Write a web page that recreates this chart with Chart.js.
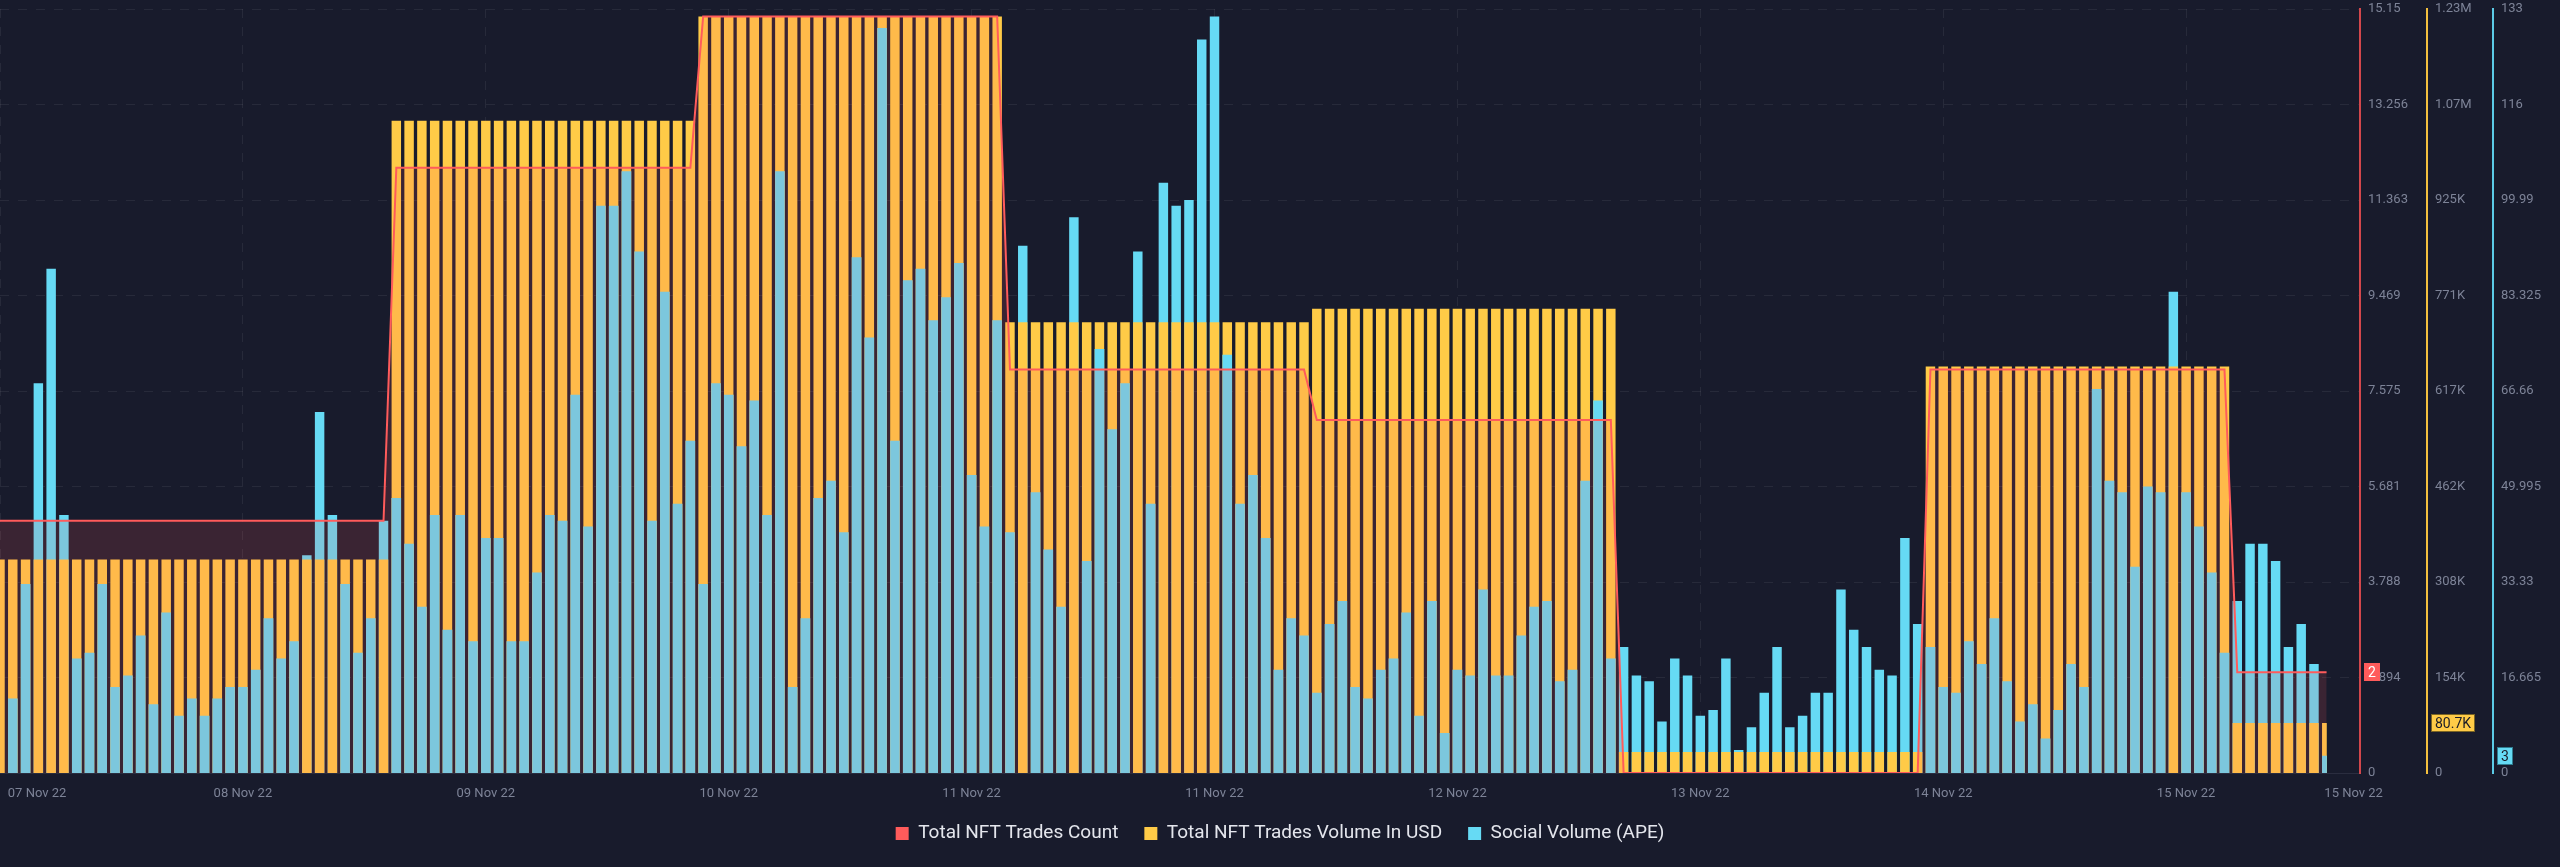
<!DOCTYPE html>
<html>
<head>
<meta charset="utf-8">
<title>APE NFT trades vs social volume</title>
<script src="https://cdn.jsdelivr.net/npm/chart.js@4.4.1/dist/chart.umd.min.js"></script>
<style>
  html, body { margin: 0; padding: 0; background: #181b2c; }
  #wrap { width: 2560px; height: 867px; }
</style>
</head>
<body>
<div id="wrap"><canvas id="chart" width="2560" height="867"></canvas></div>
<script>
// hourly values, 07 Nov 22 -> 15 Nov 22 (one entry per hour)
const tradesCount = [
  5, 5, 5, 5, 5, 5, 5,
  5, 5, 5, 5, 5, 5, 5, 5, 5, 5, 5, 5, 5, 5, 5, 5, 5, 5, 5, 5, 5, 5, 5, 5,
  12, 12, 12, 12, 12, 12, 12, 12, 12, 12, 12, 12, 12, 12, 12, 12, 12, 12, 12, 12, 12, 12, 12, 12,
  15, 15, 15, 15, 15, 15, 15, 15, 15, 15, 15, 15, 15, 15, 15, 15, 15, 15, 15, 15, 15, 15, 15, 15,
  8, 8, 8, 8, 8, 8, 8, 8, 8, 8, 8, 8, 8, 8, 8, 8, 8, 8, 8, 8, 8, 8, 8, 8,
  7, 7, 7, 7, 7, 7, 7, 7, 7, 7, 7, 7, 7, 7, 7, 7, 7, 7, 7, 7, 7, 7, 7, 7,
  0, 0, 0, 0, 0, 0, 0, 0, 0, 0, 0, 0, 0, 0, 0, 0, 0, 0, 0, 0, 0, 0, 0, 0,
  8, 8, 8, 8, 8, 8, 8, 8, 8, 8, 8, 8, 8, 8, 8, 8, 8, 8, 8, 8, 8, 8, 8, 8,
  2, 2, 2, 2, 2, 2, 2, 2
];

const tradesVolume = [
  344500, 344500, 344500, 344500, 344500, 344500, 344500,
  344500, 344500, 344500, 344500, 344500, 344500, 344500, 344500, 344500, 344500, 344500, 344500,
  344500, 344500, 344500, 344500, 344500, 344500, 344500, 344500, 344500, 344500, 344500, 344500,
  1052800, 1052800, 1052800, 1052800, 1052800, 1052800, 1052800, 1052800, 1052800, 1052800, 1052800, 1052800,
  1052800, 1052800, 1052800, 1052800, 1052800, 1052800, 1052800, 1052800, 1052800, 1052800, 1052800, 1052800,
  1221100, 1221100, 1221100, 1221100, 1221100, 1221100, 1221100, 1221100, 1221100, 1221100, 1221100, 1221100,
  1221100, 1221100, 1221100, 1221100, 1221100, 1221100, 1221100, 1221100, 1221100, 1221100, 1221100, 1221100,
  727600, 727600, 727600, 727600, 727600, 727600, 727600, 727600, 727600, 727600, 727600, 727600,
  727600, 727600, 727600, 727600, 727600, 727600, 727600, 727600, 727600, 727600, 727600, 727600,
  749300, 749300, 749300, 749300, 749300, 749300, 749300, 749300, 749300, 749300, 749300, 749300,
  749300, 749300, 749300, 749300, 749300, 749300, 749300, 749300, 749300, 749300, 749300, 749300,
  33700, 33700, 33700, 33700, 33700, 33700, 33700, 33700, 33700, 33700, 33700, 33700,
  33700, 33700, 33700, 33700, 33700, 33700, 33700, 33700, 33700, 33700, 33700, 33700,
  656200, 656200, 656200, 656200, 656200, 656200, 656200, 656200, 656200, 656200, 656200, 656200,
  656200, 656200, 656200, 656200, 656200, 656200, 656200, 656200, 656200, 656200, 656200, 656200,
  80700, 80700, 80700, 80700, 80700, 80700, 80700, 80700
];

const socialVolume = [
  0, 13, 33, 68, 88, 45, 20,
  21, 33, 15, 17, 24, 12, 28, 10, 13, 10, 13, 15, 15, 18, 27, 20, 23, 38, 63, 45, 33, 21, 27, 44,
  48, 40, 29, 45, 25, 45, 23, 41, 41, 23, 23, 35, 45, 44, 66, 43, 99, 99, 105, 91, 44, 84, 47, 58,
  33, 68, 66, 57, 65, 45, 105, 15, 27, 48, 51, 42, 90, 76, 130, 58, 86, 88, 79, 83, 89, 52, 43, 79,
  42, 92, 49, 39, 29, 97, 37, 74, 60, 68, 91, 47, 103, 99, 100, 128, 132, 73, 47, 52, 41, 18, 27, 24,
  14, 26, 30, 15, 13, 18, 20, 28, 10, 30, 7, 18, 17, 32, 17, 17, 24, 29, 30, 16, 18, 51, 65, 20,
  22, 17, 16, 9, 20, 17, 10, 11, 20, 4, 8, 14, 22, 8, 10, 14, 14, 32, 25, 22, 18, 17, 41, 26,
  22, 15, 14, 23, 19, 27, 16, 9, 12, 6, 11, 19, 15, 67, 51, 49, 36, 50, 49, 84, 49, 43, 35, 21,
  30, 40, 40, 37, 22, 26, 19, 3
];

// axis tops and their tick labels (bottom -> top)
const countMax = 15.15;
const volumeMax = 1233300;
const socialMax = 133.32;
const countTicks = ['0', '1.894', '3.788', '5.681', '7.575', '9.469', '11.363', '13.256', '15.15'];
const volumeTicks = ['0', '154K', '308K', '462K', '617K', '771K', '925K', '1.07M', '1.23M'];
const socialTicks = ['0', '16.665', '33.33', '49.995', '66.66', '83.325', '99.99', '116', '133'];

// date labels along the hour axis
const dateTickHour = [2.9, 19, 38, 57, 76, 95, 114, 133, 152, 171, 184.1];
const dateTickText = ['07 Nov 22', '08 Nov 22', '09 Nov 22', '10 Nov 22', '11 Nov 22', '11 Nov 22',
                      '12 Nov 22', '13 Nov 22', '14 Nov 22', '15 Nov 22', '15 Nov 22'];
const dateGridHour = [0, 19, 38, 57, 76, 95, 114, 133, 152, 171];
const hourAxisMax = 184.6;

const RED = '#ff5b5b', YELLOW = '#ffcb47', BLUE = '#66daf4';
const TICK_GRAY = '#7d8397';
const GRID = 'rgba(255,255,255,0.065)';

const hours = socialVolume.map((_, i) => i);
const pts = arr => arr.map((v, i) => ({ x: hours[i], y: v }));

// the shorter of the two bars sits in front
const socialFront = socialVolume.map((v, i) =>
  v / socialMax < tradesVolume[i] / volumeMax ? v : null);

function yTicksFrom(labels, max) {
  return function (scale) {
    scale.ticks = labels.map((_, k) => ({ value: max * k / (labels.length - 1) }));
  };
}

// keep the plot top close to the canvas top
function rightAxisFit(width) {
  return function (scale) {
    scale.width = width;
    scale.paddingTop = 9;
    scale.paddingBottom = 9;
  };
}

// bars are cut at the last hour, like the original
const clipToLastHour = {
  id: 'clipToLastHour',
  beforeDatasetsDraw(chart) {
    const a = chart.chartArea;
    const xr = chart.scales.x.getPixelForValue(hours[hours.length - 1]);
    chart.ctx.save();
    chart.ctx.beginPath();
    chart.ctx.rect(a.left, a.top - 6, xr - a.left, a.bottom - a.top + 12);
    chart.ctx.clip();
  },
  afterDatasetsDraw(chart) {
    chart.ctx.restore();
  }
};

// last value markers on each axis
const lastValueBadges = {
  id: 'lastValueBadges',
  afterDraw(chart) {
    const ctx = chart.ctx;
    const last = a => a[a.length - 1];
    const items = [
      { axis: 'yCount', v: last(tradesCount), text: String(last(tradesCount)), bg: RED, fg: '#ffffff', edge: RED },
      { axis: 'yVolume', v: last(tradesVolume), text: (last(tradesVolume) / 1000).toFixed(1) + 'K', bg: YELLOW, fg: '#1b1c27', edge: '#7a6424' },
      { axis: 'ySocial', v: last(socialVolume), text: String(last(socialVolume)), bg: BLUE, fg: '#1b1c27', edge: '#2f7d90' }
    ];
    ctx.save();
    ctx.font = '14px Roboto, "Noto Sans", sans-serif';
    ctx.textBaseline = 'middle';
    ctx.textAlign = 'center';
    items.forEach(it => {
      const s = chart.scales[it.axis];
      const y = Math.round(s.getPixelForValue(it.v));
      const w = Math.round(ctx.measureText(it.text).width) + 8;
      const x = Math.round(s.left) + 4;
      ctx.fillStyle = it.bg;
      ctx.fillRect(x, y - 9, w, 18);
      ctx.strokeStyle = it.edge;
      ctx.lineWidth = 1;
      ctx.strokeRect(x + 0.5, y - 8.5, w - 1, 17);
      ctx.fillStyle = it.fg;
      ctx.fillText(it.text, x + w / 2, y + 1);
    });
    ctx.restore();
  }
};

Chart.defaults.font.family = 'Roboto, "Noto Sans", sans-serif';

const barCommon = { type: 'bar', grouped: false, barPercentage: 0.74, categoryPercentage: 1, borderWidth: 0 };

new Chart(document.getElementById('chart').getContext('2d'), {
  data: {
    datasets: [
      {
        type: 'line',
        label: 'Total NFT Trades Count',
        data: pts(tradesCount),
        yAxisID: 'yCount',
        borderColor: RED,
        backgroundColor: 'rgba(255,91,91,0.15)',
        borderWidth: 2,
        pointRadius: 0,
        tension: 0,
        fill: 'origin',
        order: 1,
        legendColor: RED
      },
      Object.assign({}, barCommon, {
        label: 'Social Volume (APE) front',
        data: pts(socialFront),
        yAxisID: 'ySocial',
        backgroundColor: BLUE,
        order: 2,
        hideInLegend: true,
        legendColor: BLUE
      }),
      Object.assign({}, barCommon, {
        label: 'Total NFT Trades Volume In USD',
        data: pts(tradesVolume),
        yAxisID: 'yVolume',
        backgroundColor: YELLOW,
        order: 3,
        legendColor: YELLOW
      }),
      Object.assign({}, barCommon, {
        label: 'Social Volume (APE)',
        data: pts(socialVolume),
        yAxisID: 'ySocial',
        backgroundColor: BLUE,
        order: 4,
        legendColor: BLUE
      })
    ]
  },
  options: {
    responsive: false,
    animation: false,
    devicePixelRatio: 1,
    layout: { padding: { left: 0, right: 0, top: 0, bottom: 14 } },
    plugins: {
      tooltip: { enabled: false },
      legend: {
        position: 'bottom',
        labels: {
          color: '#e4e6ed',
          font: { size: 19 },
          boxWidth: 13,
          boxHeight: 13,
          padding: 26,
          generateLabels(chart) {
            const items = Chart.defaults.plugins.legend.labels.generateLabels(chart);
            items.forEach(it => {
              const ds = chart.data.datasets[it.datasetIndex];
              it.fillStyle = ds.legendColor;
              it.strokeStyle = ds.legendColor;
              it.lineWidth = 0;
            });
            return items.filter(it => !chart.data.datasets[it.datasetIndex].hideInLegend);
          }
        }
      }
    },
    scales: {
      x: {
        type: 'linear',
        position: 'bottom',
        offset: false,
        min: 0,
        max: hourAxisMax,
        bounds: 'data',
        afterBuildTicks(scale) {
          scale.ticks = dateTickHour.map(v => ({ value: v }));
        },
        afterFit(scale) { scale.height = 25; },
        ticks: {
          autoSkip: false,
          maxRotation: 0,
          minRotation: 0,
          padding: 5,
          color: TICK_GRAY,
          font: { size: 13 },
          callback: (v, i) => dateTickText[i]
        },
        grid: { display: false, offset: false },
        border: { display: true, color: '#2a2d3f', width: 1 }
      },
      xGrid: {
        type: 'linear',
        position: 'bottom',
        offset: false,
        min: 0,
        max: hourAxisMax,
        bounds: 'data',
        afterBuildTicks(scale) {
          scale.ticks = dateGridHour.map(v => ({ value: v }));
        },
        ticks: { display: false },
        grid: { display: true, offset: false, drawTicks: false, color: GRID, lineWidth: 1 },
        border: { display: false, dash: [9, 9] }
      },
      yCount: {
        type: 'linear',
        position: 'right',
        weight: 0,
        min: 0,
        max: countMax,
        afterBuildTicks: yTicksFrom(countTicks, countMax),
        afterFit: rightAxisFit(67),
        ticks: { color: TICK_GRAY, font: { size: 13 }, padding: 8, callback: (v, i) => countTicks[i] },
        grid: { display: true, drawTicks: false, color: GRID, lineWidth: 1 },
        border: { display: true, color: '#d2474c', width: 2, dash: [9, 9] }
      },
      yVolume: {
        type: 'linear',
        position: 'right',
        weight: 1,
        min: 0,
        max: volumeMax,
        afterBuildTicks: yTicksFrom(volumeTicks, volumeMax),
        afterFit: rightAxisFit(66),
        ticks: { color: TICK_GRAY, font: { size: 13 }, padding: 8, callback: (v, i) => volumeTicks[i] },
        grid: { display: false, drawTicks: false },
        border: { display: true, color: '#f4c03e', width: 2 }
      },
      ySocial: {
        type: 'linear',
        position: 'right',
        weight: 2,
        min: 0,
        max: socialMax,
        afterBuildTicks: yTicksFrom(socialTicks, socialMax),
        afterFit: rightAxisFit(67),
        ticks: { color: TICK_GRAY, font: { size: 13 }, padding: 8, callback: (v, i) => socialTicks[i] },
        grid: { display: false, drawTicks: false },
        border: { display: true, color: '#5ccbe6', width: 2 }
      }
    }
  },
  plugins: [clipToLastHour, lastValueBadges]
});
</script>
</body>
</html>
